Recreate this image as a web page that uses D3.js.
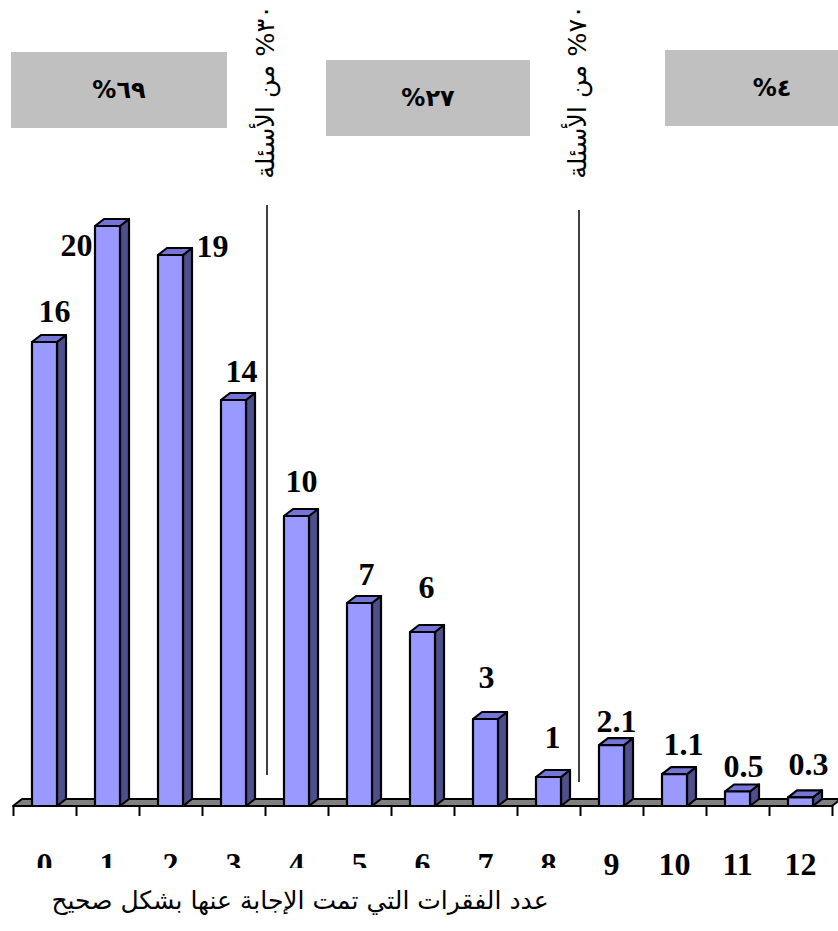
<!DOCTYPE html>
<html>
<head>
<meta charset="utf-8">
<script src="https://cdn.jsdelivr.net/npm/d3@7"></script>
<style>
  body { margin: 0; background: #fff; }
  svg { display: block; }
</style>
</head>
<body>
<svg id="chart" width="838" height="931"></svg>
<script>
// Number of items answered correctly and the share of examinees (%)
const categories = ["0", "1", "2", "3", "4", "5", "6", "7", "8", "9", "10", "11", "12"];
const values = [16, 20, 19, 14, 10, 7, 6, 3, 1, 2.1, 1.1, 0.5, 0.3];
const valueLabels = ["16", "20", "19", "14", "10", "7", "6", "3", "1", "2.1", "1.1", "0.5", "0.3"];

// Share of examinees in each score band
const groupShares = ["٦٩%", "٢٧%", "٤%"];
// Cut-off marks, placed after these category positions
const cutoffAfter = [4, 9];
const cutoffNotes = ["٣٠% من الأسئلة", "٧٠% من الأسئلة"];
const axisTitle = "عدد الفقرات التي تمت الإجابة عنها بشكل صحيح";

const svg = d3.select("#chart");

// ---- scales ----
const floorY = 806;
const x = d3.scaleBand().domain(categories).range([13, 832]).paddingInner(0).paddingOuter(0);
const xEdge = d3.scaleLinear().domain([0, categories.length]).range([13, 832]);
const y = d3.scaleLinear().domain([0, 20]).range([floorY, 226]);

// 3-D depth offsets
const dx = 9, dy = -7;
const barW = 25;

const ARABIC = "'DejaVu Sans', 'Noto Sans', sans-serif";
const SERIF = "'Liberation Serif', 'Times New Roman', serif";

// ---- floor ----
const fx0 = xEdge(0), fx1 = xEdge(categories.length);
svg.append("polygon")
  .attr("points", [[fx0, floorY], [fx1, floorY], [fx1 + dx, floorY + dy], [fx0 + dx, floorY + dy]].map(p => p.join(",")).join(" "))
  .attr("fill", "#808080")
  .attr("stroke", "#000")
  .attr("stroke-width", 2)
  .attr("stroke-linejoin", "round");

// ---- tick marks at category boundaries ----
const tickAxis = d3.axisBottom(xEdge)
  .tickValues(d3.range(categories.length + 1))
  .tickSize(10)
  .tickFormat("");
const gTicks = svg.append("g").attr("transform", `translate(0,${floorY})`).call(tickAxis);
gTicks.select(".domain").remove();
gTicks.selectAll(".tick line").attr("stroke", "#000").attr("stroke-width", 2);

// ---- category labels ----
const labelAxis = d3.axisBottom(x).tickSize(0).tickPadding(0);
const gLabels = svg.append("g").attr("transform", `translate(0,${floorY})`).call(labelAxis);
gLabels.select(".domain").remove();
gLabels.selectAll(".tick text")
  .attr("y", 69)
  .attr("dy", null)
  .attr("font-family", SERIF)
  .attr("font-weight", "bold")
  .attr("font-size", 32)
  .attr("fill", "#000");

// ---- bars ----
const bars = svg.append("g").selectAll("g.bar")
  .data(values.map((v, i) => ({ v, c: categories[i], i })))
  .join("g").attr("class", "bar");

bars.each(function (d) {
  const g = d3.select(this);
  const xc = x(d.c) + x.bandwidth() / 2;
  const xl = xc - barW / 2, xr = xc + barW / 2;
  const yt = y(d.v), yb = y(0);
  const pts = a => a.map(p => p.join(",")).join(" ");
  // side face
  g.append("polygon")
    .attr("points", pts([[xr, yt], [xr + dx, yt + dy], [xr + dx, yb + dy], [xr, yb]]))
    .attr("fill", "#4f4f8c");
  // top face
  g.append("polygon")
    .attr("points", pts([[xl, yt], [xl + dx, yt + dy], [xr + dx, yt + dy], [xr, yt]]))
    .attr("fill", "#7575d8");
  // front face
  g.append("rect")
    .attr("x", xl).attr("y", yt)
    .attr("width", barW).attr("height", yb - yt)
    .attr("fill", "#9999ff");
  g.selectAll("polygon, rect")
    .attr("stroke", "#000")
    .attr("stroke-width", 2.2)
    .attr("stroke-linejoin", "round");
});

// ---- value labels (hand-placed around each bar top) ----
const labelNudge = [[10, -20], [-31, 30], [42, 2], [8, -18], [5, -24], [7, -18], [4, -34],
                    [1, -31], [4, -29], [5, -13], [9, -19], [6, -15], [8, -22]];
svg.append("g").selectAll("text")
  .data(values)
  .join("text")
  .attr("x", (d, i) => x(categories[i]) + x.bandwidth() / 2 + labelNudge[i][0])
  .attr("y", (d, i) => y(d) + labelNudge[i][1])
  .attr("text-anchor", "middle")
  .attr("font-family", SERIF)
  .attr("font-weight", "bold")
  .attr("font-size", 32)
  .attr("fill", "#000")
  .text((d, i) => valueLabels[i]);

// ---- cut-off lines and their notes ----
const cutTops = [205, 210];
const cutBottoms = [775, 782];
cutoffAfter.forEach((k, j) => {
  const cx = xEdge(k) + (j === 0 ? 2 : -1);
  svg.append("line")
    .attr("x1", cx).attr("x2", cx)
    .attr("y1", cutTops[j]).attr("y2", cutBottoms[j])
    .attr("stroke", "#000").attr("stroke-width", 1.5);
  svg.append("text")
    .attr("transform", `translate(${cx - 2},92) rotate(-90)`)
    .attr("text-anchor", "middle")
    .attr("dominant-baseline", "central")
    .attr("direction", "rtl")
    .attr("font-family", ARABIC)
    .attr("font-size", 25.5)
    .attr("fill", "#000")
    .text(cutoffNotes[j]);
});

// ---- share boxes ----
const boxes = [
  { x: 11, y: 52, w: 216, h: 76 },
  { x: 326, y: 60, w: 204, h: 76 },
  { x: 665, y: 50, w: 214, h: 76 }
];
boxes.forEach((b, j) => {
  svg.append("rect")
    .attr("x", b.x).attr("y", b.y).attr("width", b.w).attr("height", b.h)
    .attr("fill", "#c0c0c0");
  svg.append("text")
    .attr("x", b.x + b.w / 2).attr("y", b.y + b.h / 2)
    .attr("text-anchor", "middle")
    .attr("dominant-baseline", "central")
    .attr("direction", "rtl")
    .attr("font-family", ARABIC)
    .attr("font-weight", "bold")
    .attr("font-size", 24)
    .attr("fill", "#000")
    .text(groupShares[j]);
});

// ---- axis title on its white panel ----
svg.append("rect")
  .attr("x", 8).attr("y", 868).attr("width", 584).attr("height", 63)
  .attr("fill", "#fff");
svg.append("text")
  .attr("x", 300).attr("y", 909)
  .attr("text-anchor", "middle")
  .attr("direction", "rtl")
  .attr("font-family", ARABIC)
  .attr("font-size", 25)
  .attr("fill", "#000")
  .text(axisTitle);
</script>
</body>
</html>
